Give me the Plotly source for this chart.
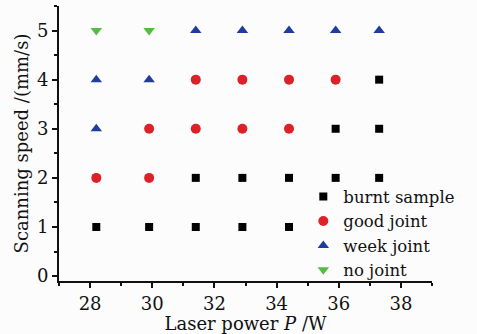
import plotly.graph_objects as go

powers = [28.2, 29.9, 31.4, 32.9, 34.4, 35.9, 37.3]

burnt_x = [28.2, 29.9, 31.4, 32.9, 34.4, 31.4, 32.9, 34.4, 35.9, 37.3, 35.9, 37.3, 37.3]
burnt_y = [1, 1, 1, 1, 1, 2, 2, 2, 2, 2, 3, 3, 4]

good_x = [28.2, 29.9, 29.9, 31.4, 32.9, 34.4, 31.4, 32.9, 34.4, 35.9]
good_y = [2, 2, 3, 3, 3, 3, 4, 4, 4, 4]

week_x = [28.2, 28.2, 29.9, 31.4, 32.9, 34.4, 35.9, 37.3]
week_y = [3, 4, 4, 5, 5, 5, 5, 5]

no_x = [28.2, 29.9]
no_y = [5, 5]

FONT = "DejaVu Serif"

fig = go.Figure()
fig.add_trace(go.Scatter(x=burnt_x, y=burnt_y, mode="markers", name="burnt sample",
                         marker=dict(symbol="square", size=8, color="#000000")))
fig.add_trace(go.Scatter(x=good_x, y=good_y, mode="markers", name="good joint",
                         marker=dict(symbol="circle", size=10, color="#dc2228")))
fig.add_trace(go.Scatter(x=week_x, y=week_y, mode="markers", name="week joint",
                         marker=dict(symbol="triangle-up", size=10, color="#1f3d9c")))
fig.add_trace(go.Scatter(x=no_x, y=no_y, mode="markers", name="no joint",
                         marker=dict(symbol="triangle-down", size=10, color="#55bb44")))

axis_common = dict(
    showline=True, linecolor="#111111", linewidth=2, mirror=False,
    ticks="outside", ticklen=5, tickwidth=1.5, tickcolor="#111111",
    showgrid=False, zeroline=False,
    tickfont=dict(family=FONT, size=18, color="#111111"),
)

fig.update_layout(
    width=477, height=334,
    margin=dict(l=59, r=45, t=6, b=48),
    paper_bgcolor="#fcfcfc", plot_bgcolor="#fcfcfc",
    font=dict(family=FONT, color="#111111"),
    xaxis=dict(range=[27, 39], tickvals=[28, 30, 32, 34, 36, 38],
               minor=dict(tickvals=[27, 29, 31, 33, 35, 37, 39], ticklen=3, tickwidth=1.5, ticks="outside", tickcolor="#111111"),
               title=dict(text="Laser power <i>P</i> /W", font=dict(family=FONT, size=18), standoff=2),
               **axis_common),
    yaxis=dict(range=[-0.1, 5.5], tickvals=[0, 1, 2, 3, 4, 5],
               minor=dict(tickvals=[0.5, 1.5, 2.5, 3.5, 4.5, 5.5], ticklen=3, tickwidth=1.5, ticks="outside", tickcolor="#111111"),
               title=dict(text="Scanning speed /(mm/s)", font=dict(family=FONT, size=18), standoff=4),
               **axis_common),
    legend=dict(x=0.655, y=0.37, xanchor="left", yanchor="top",
                bgcolor="rgba(0,0,0,0)", font=dict(family=FONT, size=16.5),
                itemwidth=30, tracegroupgap=0),
    showlegend=True,
)

fig.write_html("out.html")
